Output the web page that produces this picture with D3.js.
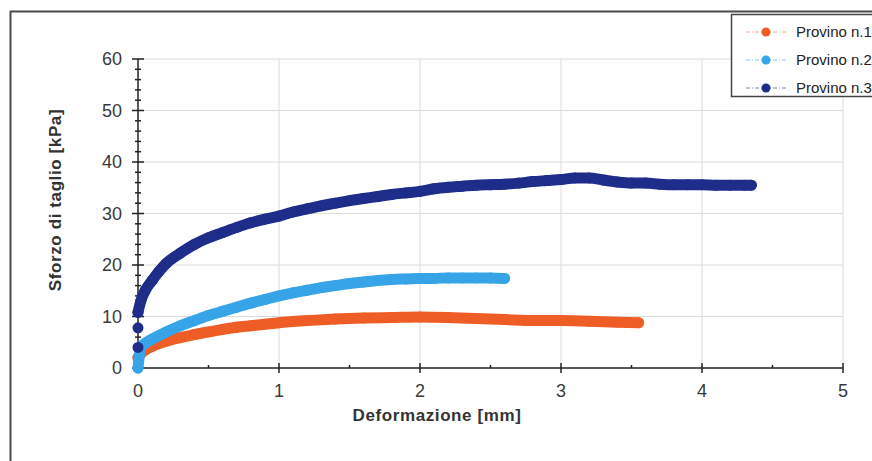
<!DOCTYPE html>
<html lang="it">
<head>
<meta charset="utf-8">
<title>Sforzo di taglio - Deformazione</title>
<script src="https://d3js.org/d3.v7.min.js"></script>
<style>
  body { margin: 0; background: #fff; }
  svg { display: block; font-family: "Liberation Sans", Arial, sans-serif; }
</style>
</head>
<body>
<svg width="872" height="461"></svg>
<script>

// valori: deformazione [mm] e sforzo di taglio [kPa]
var seriesNames = ["Provino n.1", "Provino n.2", "Provino n.3"];
var seriesColors = ["#ef5d26", "#38a4e8", "#1f2d8a"];

var x1 = [0, 0.02, 0.05, 0.1, 0.2, 0.3, 0.4, 0.5, 0.6, 0.7, 0.8, 0.9, 1.0, 1.2, 1.4, 1.6, 1.8, 2.0, 2.2, 2.4, 2.6, 2.8, 3.0, 3.2, 3.4, 3.55];
var y1 = [2, 2.8, 3.5, 4.2, 5.2, 5.9, 6.5, 7, 7.5, 7.9, 8.2, 8.5, 8.8, 9.2, 9.5, 9.7, 9.8, 9.9, 9.8, 9.6, 9.4, 9.2, 9.2, 9.1, 8.9, 8.8];

var x2 = [0, 0.02, 0.05, 0.1, 0.2, 0.3, 0.4, 0.5, 0.6, 0.7, 0.8, 0.9, 1.0, 1.1, 1.2, 1.3, 1.4, 1.5, 1.6, 1.7, 1.8, 1.9, 2.0, 2.1, 2.2, 2.3, 2.4, 2.5, 2.6];
var y2 = [0, 4, 4.8, 5.6, 7, 8.2, 9.2, 10.2, 11, 11.8, 12.6, 13.3, 14, 14.6, 15.1, 15.6, 16, 16.4, 16.7, 17, 17.2, 17.3, 17.4, 17.4, 17.5, 17.5, 17.5, 17.5, 17.4];

var x3 = [0, 0, 0, 0.02, 0.05, 0.1, 0.15, 0.2, 0.3, 0.4, 0.5, 0.6, 0.7, 0.8, 0.9, 1.0, 1.1, 1.2, 1.3, 1.4, 1.5, 1.6, 1.7, 1.8, 1.9, 2.0, 2.1, 2.2, 2.3, 2.4, 2.5, 2.6, 2.7, 2.8, 2.9, 3.0, 3.1, 3.2, 3.3, 3.4, 3.5, 3.6, 3.7, 3.8, 3.9, 4.0, 4.1, 4.2, 4.3, 4.35];
var y3 = [4, 7.8, 10.8, 13, 15, 17, 18.8, 20.3, 22.3, 24, 25.3, 26.3, 27.3, 28.2, 28.9, 29.5, 30.3, 30.9, 31.5, 32, 32.5, 32.9, 33.3, 33.7, 34, 34.3, 34.8, 35.1, 35.3, 35.5, 35.6, 35.7, 35.9, 36.2, 36.4, 36.6, 36.9, 36.9, 36.5, 36.1, 35.9, 35.9, 35.7, 35.6, 35.6, 35.6, 35.5, 35.5, 35.5, 35.5];

var xTicks = [0, 1, 2, 3, 4, 5];
var yTicks = [0, 10, 20, 30, 40, 50, 60];

var series = [
  {name: seriesNames[0], color: seriesColors[0], pts: d3.zip(x1, y1)},
  {name: seriesNames[1], color: seriesColors[1], pts: d3.zip(x2, y2)},
  {name: seriesNames[2], color: seriesColors[2], pts: d3.zip(x3, y3)}
];

var svg = d3.select("svg");

// cornice esterna
svg.append("path")
    .attr("d", "M10.5,461 L10.5,11.5 L872,11.5")
    .attr("fill", "none").attr("stroke", "#4a4a4a").attr("stroke-width", 2);

var x = d3.scaleLinear().domain([0, 5]).range([138, 843]);
var y = d3.scaleLinear().domain([0, 60]).range([368, 59]);

// griglia
var grid = svg.append("g").attr("stroke", "#dcdcdc").attr("stroke-width", 1);
grid.selectAll(".gx").data(xTicks.slice(1)).enter().append("line")
    .attr("x1", function(d) { return x(d); }).attr("x2", function(d) { return x(d); })
    .attr("y1", y(60)).attr("y2", y(0));
grid.selectAll(".gy").data(yTicks.slice(1)).enter().append("line")
    .attr("x1", x(0)).attr("x2", x(5))
    .attr("y1", function(d) { return y(d); }).attr("y2", function(d) { return y(d); });

// assi
var ax = svg.append("g").attr("stroke", "#222").attr("stroke-width", 1.5);
ax.append("line").attr("x1", x(0)).attr("x2", x(5)).attr("y1", y(0)).attr("y2", y(0));
ax.append("line").attr("x1", x(0)).attr("x2", x(0)).attr("y1", y(0)).attr("y2", y(60));

ax.selectAll(".tx").data(d3.range(0, 5.01, 0.5)).enter().append("line")
    .attr("x1", function(d) { return x(d); }).attr("x2", function(d) { return x(d); })
    .attr("y1", function(d) { return y(0) - (d % 1 === 0 ? 5 : 3); })
    .attr("y2", function(d) { return y(0) + (d % 1 === 0 ? 5 : 0); });
ax.selectAll(".ty").data(d3.range(0, 61, 2)).enter().append("line")
    .attr("y1", function(d) { return y(d); }).attr("y2", function(d) { return y(d); })
    .attr("x1", function(d) { return x(0) - (d % 10 === 0 ? 6 : 3); })
    .attr("x2", function(d) { return x(0) + (d % 10 === 0 ? 6 : 3); });

svg.selectAll(".lx").data(xTicks).enter().append("text")
    .attr("x", function(d) { return x(d); }).attr("y", 397)
    .attr("text-anchor", "middle").attr("font-size", 18).attr("fill", "#3a3a3a")
    .text(function(d) { return d; });
svg.selectAll(".ly").data(yTicks).enter().append("text")
    .attr("x", 122).attr("y", function(d) { return y(d) + 6; })
    .attr("text-anchor", "end").attr("font-size", 18).attr("fill", "#3a3a3a")
    .text(function(d) { return d; });

svg.append("text").attr("x", 437).attr("y", 421)
    .attr("text-anchor", "middle").attr("font-size", 17).attr("font-weight", "bold").attr("fill", "#333")
    .attr("letter-spacing", 0.6)
    .text("Deformazione [mm]");
svg.append("text").attr("transform", "translate(61,200) rotate(-90)")
    .attr("text-anchor", "middle").attr("font-size", 17).attr("font-weight", "bold").attr("fill", "#333")
    .attr("letter-spacing", 0.6)
    .text("Sforzo di taglio [kPa]");

// serie: marker fitti che formano una banda spessa
var line = d3.line().x(function(d) { return x(d[0]); }).y(function(d) { return y(d[1]); }).curve(d3.curveMonotoneX);
var sg = svg.selectAll(".serie").data(series).enter().append("g");
sg.append("path")
    .attr("d", function(d) { return line(d.pts.filter(function(p, i) { return !(d.name == "Provino n.3" && i < 2); })); })
    .attr("fill", "none").attr("stroke", function(d) { return d.color; })
    .attr("stroke-width", 11).attr("stroke-linecap", "round").attr("stroke-linejoin", "round");
sg.selectAll("circle").data(function(d) { return d.pts.map(function(p) { return {p: p, c: d.color}; }); })
  .enter().append("circle")
    .attr("cx", function(d) { return x(d.p[0]); }).attr("cy", function(d) { return y(d.p[1]); })
    .attr("r", 5.5).attr("fill", function(d) { return d.c; });

// legenda
var lg = svg.append("g");
lg.append("rect").attr("x", 731.5).attr("y", 14.5).attr("width", 150).attr("height", 82)
    .attr("fill", "#fff").attr("stroke", "#444").attr("stroke-width", 1.5);
var le = lg.selectAll(".le").data(series).enter().append("g")
    .attr("transform", function(d, i) { return "translate(0," + [32, 60, 88][i] + ")"; });
le.append("line").attr("x1", 746).attr("x2", 788).attr("y1", 0).attr("y2", 0)
    .attr("stroke", function(d) { return d.color; }).attr("stroke-opacity", 0.6)
    .attr("stroke-width", 1).attr("stroke-dasharray", "4,2,1,2");
le.append("circle").attr("cx", 766).attr("cy", 0).attr("r", 4.5)
    .attr("fill", function(d) { return d.color; });
le.append("text").attr("x", 796).attr("y", 5).attr("font-size", 15).attr("fill", "#222")
    .text(function(d) { return d.name; });

</script>
</body>
</html>
